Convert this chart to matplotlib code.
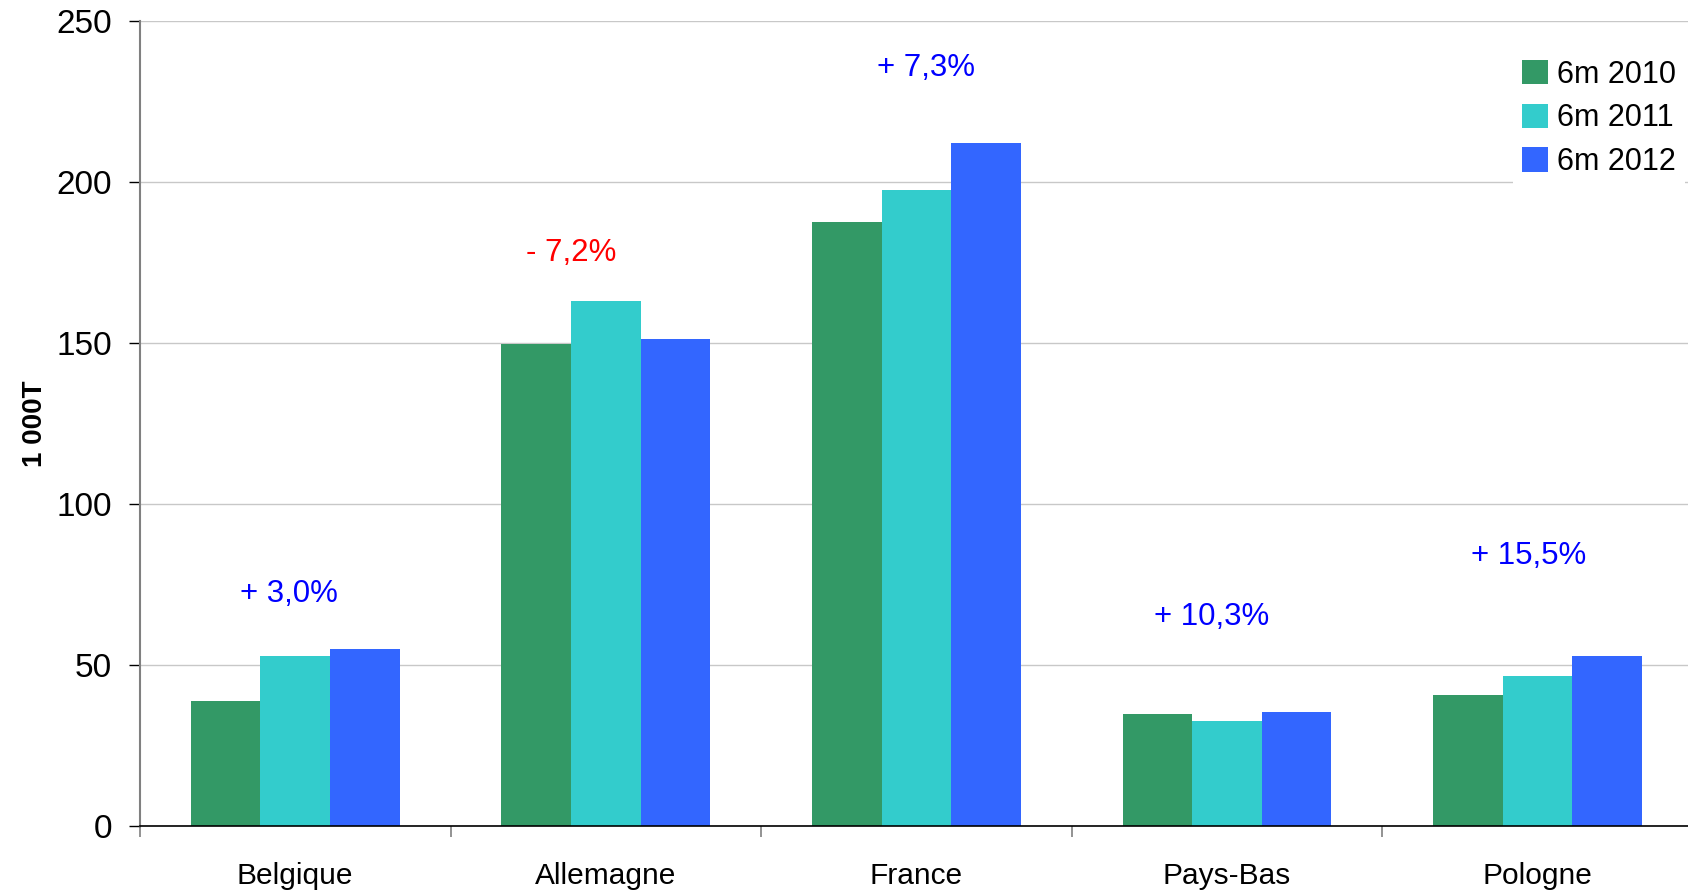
import numpy as np
import matplotlib
matplotlib.use('Agg')
import matplotlib.pyplot as plt

plt.rcParams['font.family'] = ['Liberation Sans', 'DejaVu Sans']

# data
pays = ['Belgique', 'Allemagne', 'France', 'Pays-Bas', 'Pologne']
series = ['6m 2010', '6m 2011', '6m 2012']
v2010 = [38.8, 149.9, 187.8, 34.8, 40.8]
v2011 = [52.9, 163.0, 197.5, 32.5, 46.5]
v2012 = [54.9, 151.3, 212.2, 35.5, 52.9]
evol = ['+ 3,0%', '- 7,2%', '+ 7,3%', '+ 10,3%', '+ 15,5%']
evol_col = ['#0000FF', '#FF0000', '#0000FF', '#0000FF', '#0000FF']
evol_y = [72.0, 178.0, 235.5, 65.0, 84.0]
evol_dx = [-0.02, -0.11, 0.03, -0.05, -0.03]

colors = ['#339966', '#33CCCC', '#3366FF']

fig = plt.figure(figsize=(16.88, 8.92), dpi=100)
ax = fig.add_axes([0.0829, 0.074, 0.92, 0.902])

x = np.arange(len(pays))
w = 0.224
for i, (vals, lab) in enumerate(zip([v2010, v2011, v2012], series)):
    ax.bar(x + (i - 1) * w, vals, width=w, color=colors[i], label=lab, zorder=2)

# evolution 2011 -> 2012
for xi, t, c, y, dx in zip(x, evol, evol_col, evol_y, evol_dx):
    ax.text(xi + dx, y, t, color=c, fontsize=22.5, ha='center', va='center')

ax.set_xlim(-0.5, 4.5)
ax.set_ylim(0, 250)
ax.set_yticks([0, 50, 100, 150, 200, 250])
ax.set_xticks(x)
ax.set_xticklabels(pays)
ax.set_xticks(np.arange(-0.5, 5.0, 1), minor=True)

ax.yaxis.grid(True, color='#C8C8C8', lw=1, zorder=0)
ax.set_axisbelow(True)
for s in ['top', 'right']:
    ax.spines[s].set_visible(False)
ax.spines['left'].set_color('#808080')
ax.spines['left'].set_linewidth(1.5)
ax.spines['bottom'].set_color('black')
ax.spines['bottom'].set_linewidth(1.2)

ax.tick_params(axis='y', labelsize=24, length=8, width=1, color='black', pad=12)
ax.tick_params(axis='x', which='major', length=0, labelsize=21.5, pad=26)
ax.tick_params(axis='x', which='minor', length=8, width=1.2, color='#808080')

ax.set_ylabel('1 000T', fontsize=20, fontweight='bold', labelpad=6)

leg = ax.legend(loc='upper right', bbox_to_anchor=(1.005, 0.983), fontsize=22,
                frameon=True, fancybox=False, edgecolor='none', framealpha=1,
                handlelength=0.85, handleheight=0.85, handletextpad=0.3,
                labelspacing=0.45, borderpad=0.3)

plt.savefig('out.png', dpi=100)
